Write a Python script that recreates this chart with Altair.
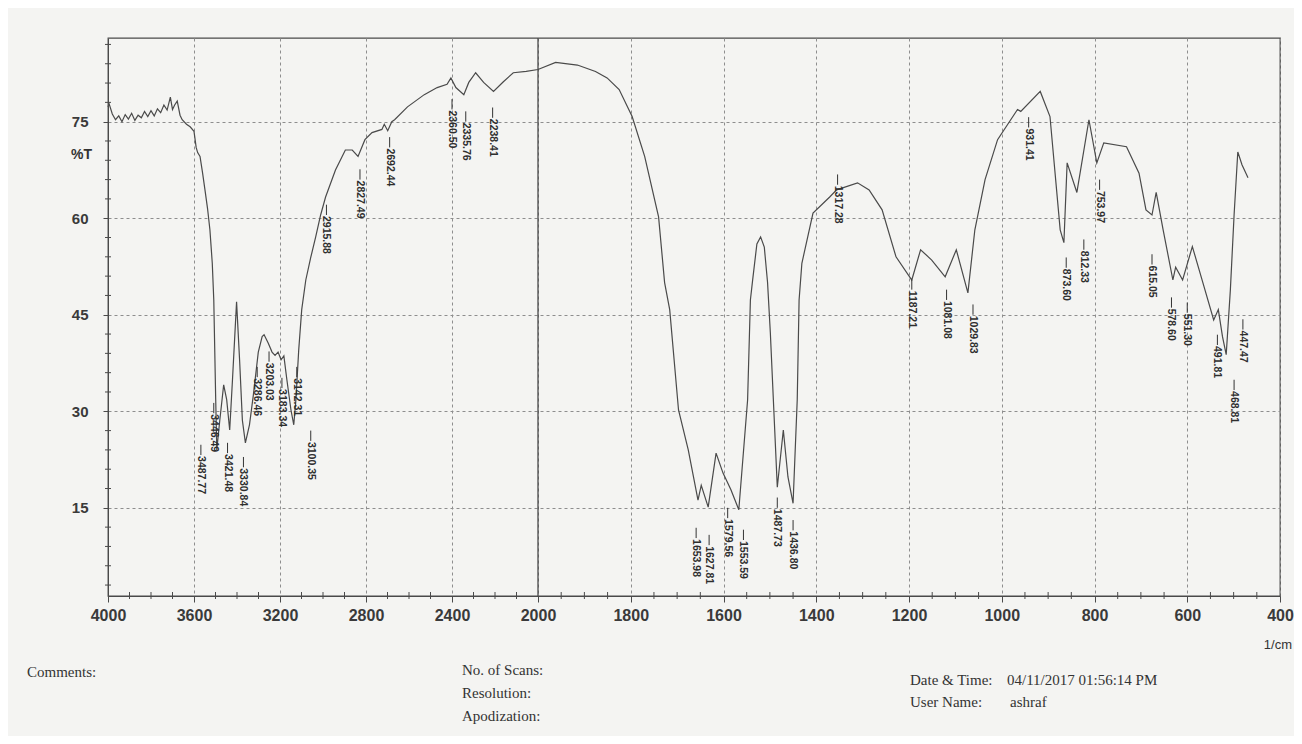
import altair as alt
import pandas as pd

# ---- spectrum ----
WN_HIGH = [4000, 3995, 3980, 3965, 3950, 3935, 3920, 3905, 3890, 3875, 3860, 3845, 3830, 3815, 3800,
           3785, 3770, 3755, 3740, 3725, 3710, 3700, 3690, 3678, 3665, 3655, 3635, 3618, 3600, 3590,
           3583, 3572, 3560, 3549, 3537, 3526, 3515, 3508, 3499, 3494, 3480, 3462, 3448, 3434, 3421,
           3402, 3388, 3375, 3361, 3342, 3324, 3301, 3283, 3274, 3255, 3237, 3223, 3209, 3195, 3182,
           3168, 3149, 3136, 3126, 3113, 3099, 3080, 3057, 3034, 3011, 2988, 2942, 2896, 2864, 2837,
           2805, 2772, 2726, 2715, 2699, 2680, 2667, 2607, 2529, 2469, 2423, 2405, 2382, 2345, 2322,
           2290, 2253, 2207, 2161, 2115, 2055, 2000]
T_HIGH = [77.3, 77.8, 76.2, 75.3, 75.9, 75.0, 76.1, 75.4, 76.3, 75.2, 76.0, 75.6, 76.6, 75.8, 76.7,
          75.9, 77.0, 76.4, 77.6, 76.8, 78.8, 76.9, 77.6, 78.2, 76.0, 75.3, 74.6, 74.2, 73.5, 71.0,
          70.2, 69.6, 67.0, 64.4, 61.5, 58.2, 53.0, 47.3, 31.8, 24.0, 28.6, 34.1, 31.8, 27.1, 34.9,
          47.0, 38.0, 28.6, 25.1, 27.9, 32.5, 39.2, 41.6, 41.9, 40.6, 39.2, 38.7, 39.2, 38.0, 38.6,
          34.9, 30.2, 27.9, 31.8, 39.5, 45.8, 50.4, 53.9, 57.1, 60.5, 63.3, 67.5, 70.6, 70.6, 69.6,
          72.2, 73.3, 73.8, 74.6, 73.6, 75.0, 75.3, 77.3, 79.2, 80.3, 80.8, 81.8, 80.3, 79.2, 81.1,
          82.6, 81.1, 79.7, 81.2, 82.6, 82.8, 83.1]

WN_LOW = [1962, 1915, 1876, 1851, 1825, 1797, 1770, 1740, 1727, 1716, 1697, 1676, 1655, 1648, 1633,
          1616, 1601, 1584, 1567, 1548, 1542, 1537, 1528, 1520, 1512, 1505, 1499, 1484, 1471, 1461,
          1450, 1441, 1437, 1431, 1407, 1371, 1356, 1311, 1286, 1258, 1228, 1194, 1175, 1151, 1122,
          1098, 1073, 1058, 1036, 1009, 966, 959, 917, 896, 874, 866, 859, 838, 812, 795,
          780, 731, 704, 689, 676, 667, 652, 631, 625, 610, 589, 564, 543, 533, 524,
          516, 507, 499, 491, 482, 469]
T_LOW = [84.2, 83.8, 82.8, 81.8, 80.0, 75.8, 69.6, 60.2, 50.0, 45.8, 30.2, 24.0, 16.2, 18.5, 15.1,
         23.5, 20.4, 17.8, 14.7, 31.8, 47.3, 50.5, 56.0, 57.1, 55.5, 50.0, 42.2, 18.2, 27.1, 19.8,
         15.7, 31.8, 47.3, 53.0, 60.8, 63.3, 64.4, 65.5, 64.4, 61.3, 54.0, 50.4, 55.1, 53.5, 50.9,
         55.1, 48.4, 58.2, 66.0, 72.2, 76.9, 76.6, 79.7, 75.8, 58.2, 56.2, 68.6, 64.0, 75.3, 68.6,
         71.7, 71.1, 67.0, 61.3, 60.5, 64.0, 58.2, 50.4, 52.4, 50.4, 55.6, 49.4, 44.2, 45.8, 41.6,
         38.8, 48.9, 60.5, 70.3, 68.3, 66.3]

# ---- peak labels: text, label position (cm-1), label top (%T) ----
PEAK_TEXT = ["3487.77", "3446.49", "3421.48", "3330.84", "3286.46", "3203.03", "3183.34", "3142.31",
             "3100.35", "2915.88", "2827.49", "2692.44", "2360.50", "2335.76", "2238.41",
             "1653.98", "1627.81", "1579.56", "1553.59", "1487.73", "1436.80", "1317.28",
             "1187.21", "1081.08", "1029.83", "931.41", "873.60", "812.33", "753.97",
             "615.05", "578.60", "551.30", "491.81", "468.81", "447.47"]
PEAK_POS = [3568, 3508, 3444, 3370, 3306, 3251, 3191, 3122, 3057, 2984, 2828, 2690, 2400, 2336, 2211,
            1659, 1631, 1591, 1557, 1484, 1450, 1354, 1194, 1119, 1062, 942, 861, 823, 789,
            676, 634, 600, 535, 499, 480]
PEAK_TOP = [23.2, 29.7, 23.5, 21.3, 35.3, 37.7, 33.6, 35.3, 25.4, 60.5, 66.0, 71.0, 76.9, 75.0, 75.6,
            10.3, 9.2, 13.4, 10.0, 15.0, 11.5, 65.2, 48.9, 47.3, 45.0, 74.1, 52.3, 55.1, 64.4,
            52.8, 46.1, 45.3, 40.3, 33.3, 42.7]

X_TICKS = [4000, 3600, 3200, 2800, 2400, 2000, 1800, 1600, 1400, 1200, 1000, 800, 600, 400]
Y_TICKS = [15, 30, 45, 60, 75]

FOOT_TEXT = ["Comments:", "No. of Scans:", "Resolution:", "Apodization:",
             "Date & Time:", "04/11/2017 01:56:14 PM", "User Name:", "ashraf"]

W, H = 1172, 558
W_SPLIT = 430
INK = "#4a4a4a"
FONT = "Liberation Sans"
SERIF = "Liberation Serif"

spec = pd.DataFrame({"wn": WN_HIGH + WN_LOW, "T": T_HIGH + T_LOW})
spec["i"] = range(len(spec))
peaks = pd.DataFrame({"txt": PEAK_TEXT, "wn": PEAK_POS, "top": PEAK_TOP})
peaks["lead"] = peaks["top"] + 1.6

minor_x = [v for v in range(3900, 2000, -100) if v not in X_TICKS] + \
          [v for v in range(1950, 400, -50) if v not in X_TICKS]
minor_y = [v for v in range(3, 88, 3) if v not in Y_TICKS]

x_scale = alt.Scale(domain=[4000, 2000, 400], range=[0, W_SPLIT, W], zero=False, nice=False)
y_scale = alt.Scale(domain=[1.3, 88], zero=False, nice=False)

X_AXIS = alt.Axis(values=X_TICKS, title=None, grid=True, gridDash=[3, 3], gridColor="#8e8e8e",
                  gridWidth=1, tickSize=6, tickColor=INK, domainColor=INK, labelFont=FONT,
                  labelFontSize=16, labelFontWeight="bold", labelColor="#3a3a3a",
                  labelPadding=5, format="d", labelFlush=False)
Y_AXIS = alt.Axis(values=Y_TICKS, title=None, grid=True, gridDash=[3, 3], gridColor="#8e8e8e",
                  gridWidth=1, tickSize=5, tickColor=INK, domainColor=INK, labelFont=FONT,
                  labelFontSize=15, labelFontWeight="bold", labelColor="#3a3a3a",
                  labelPadding=15)


def X(field):
    return alt.X(field, scale=x_scale, axis=X_AXIS)


def Y(field):
    return alt.Y(field, scale=y_scale, axis=Y_AXIS)


line = alt.Chart(spec).mark_line(color=INK, strokeWidth=1.2).encode(
    x=X("wn:Q"), y=Y("T:Q"), order="i:Q")

divider = alt.Chart(pd.DataFrame({"d": [2000]})).mark_rule(color=INK, strokeWidth=1.3).encode(
    x=X("d:Q"))

xminor = alt.Chart(pd.DataFrame({"m": minor_x})).mark_rule(color=INK).encode(
    x=X("m:Q"), y=alt.value(H - 4), y2=alt.value(H + 3))
yminor = alt.Chart(pd.DataFrame({"m": minor_y})).mark_rule(color=INK).encode(
    y=Y("m:Q"), x=alt.value(-3), x2=alt.value(3))

leaders = alt.Chart(peaks).mark_rule(color="#333", strokeWidth=1).encode(
    x=X("wn:Q"), y=Y("top:Q"), y2="lead:Q")
labels = alt.Chart(peaks).mark_text(angle=90, align="left", baseline="middle", font=FONT,
                                    fontSize=10.5, fontWeight="bold", color="#2e2e2e", dx=1).encode(
    x=X("wn:Q"), y=Y("top:Q"), text="txt:N")

layers = [line, divider, xminor, yminor, leaders, labels]


def note(txt, px, py, align="left", font=SERIF, size=15, weight="normal"):
    return alt.Chart(pd.DataFrame({"t": [txt]})).mark_text(
        align=align, baseline="middle", font=font, fontSize=size, fontWeight=weight,
        color="#333").encode(x=alt.value(px), y=alt.value(py), text="t:N")


layers.append(note("%T", -16, 117, align="right", font=FONT, size=14, weight="bold"))
layers.append(note(FOOT_TEXT[0], -81, 634))
layers.append(note(FOOT_TEXT[1], 354, 632))
layers.append(note(FOOT_TEXT[2], 354, 655))
layers.append(note(FOOT_TEXT[3], 354, 678))
layers.append(note(FOOT_TEXT[4], 802, 642))
layers.append(note(FOOT_TEXT[5], 899, 642))
layers.append(note(FOOT_TEXT[6], 802, 664))
layers.append(note(FOOT_TEXT[7], 902, 664))
layers.append(note("1/cm", W + 12, H + 49, align="right", font=FONT, size=13))

chart = alt.layer(*layers).properties(
    width=W, height=H,
    autosize=alt.AutoSizeParams(type="none"),
    padding={"left": 100, "top": 30, "right": 14, "bottom": 140},
    background="#f4f4f2",
).configure_view(stroke=INK, strokeWidth=1.3)

chart.save("out.html", embed_options={"renderer": "svg", "actions": False})
